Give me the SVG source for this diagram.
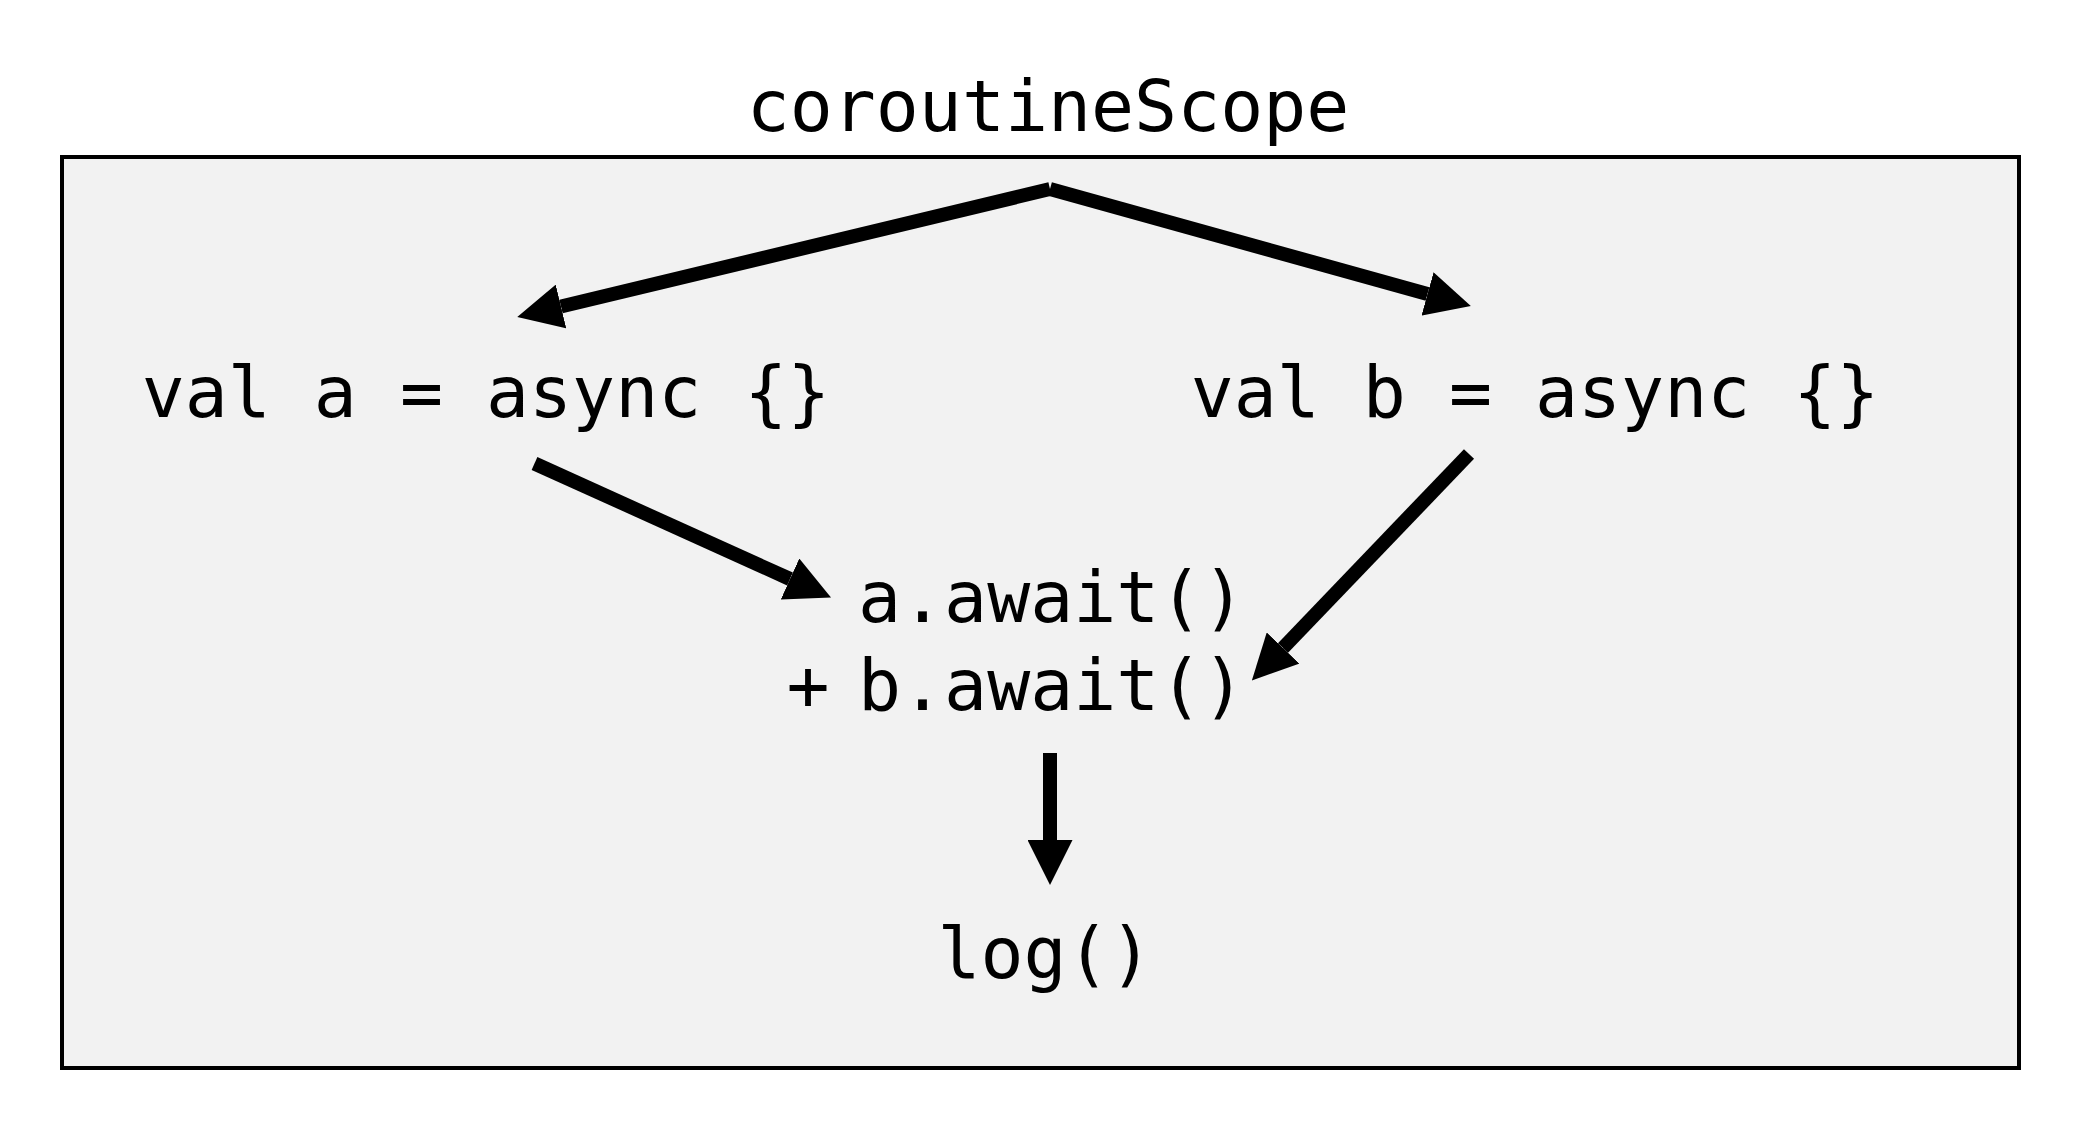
<svg xmlns="http://www.w3.org/2000/svg" width="2090" height="1136" viewBox="0 0 2090 1136">
  <style>
    .t { font-family: "DejaVu Sans Mono", "Liberation Mono", monospace; font-size: 71.5px; fill: #000; }
    .c { stroke: #000; stroke-width: 14; fill: none; stroke-linecap: butt; marker-end: url(#ah); }
  </style>
  <defs>
    <marker id="ah" markerUnits="userSpaceOnUse" markerWidth="45" markerHeight="45" viewBox="0 0 45 45" refX="0" refY="22.5" orient="auto">
      <path d="M0,0 L45,22.5 L0,45 Z" fill="#000"/>
    </marker>
  </defs>
  <rect width="2090" height="1136" fill="#fff"/>
  <g id="scope">
    <text class="t" x="1048" y="131" text-anchor="middle">coroutineScope</text>
    <rect x="62" y="157" width="1957" height="911" fill="#f2f2f2" stroke="#000" stroke-width="4"/>
  </g>
  <g id="node-a">
    <text class="t" x="486" y="417" text-anchor="middle">val a = async {}</text>
  </g>
  <g id="node-b">
    <text class="t" x="1535" y="417" text-anchor="middle">val b = async {}</text>
  </g>
  <g id="node-await">
    <text class="t" x="858" y="622">a.await()</text>
    <text class="t" x="808" y="710" text-anchor="middle">+</text>
    <text class="t" x="858" y="710">b.await()</text>
  </g>
  <g id="node-log">
    <text class="t" x="1045" y="978" text-anchor="middle">log()</text>
  </g>
  <g id="connectors">
    <line class="c" x1="1050" y1="189" x2="561" y2="306.5"/>
    <line class="c" x1="1050" y1="189" x2="1427.5" y2="294"/>
    <line class="c" x1="534.5" y1="463.5" x2="790" y2="579"/>
    <line class="c" x1="1469" y1="454" x2="1283" y2="648"/>
    <line class="c" x1="1050" y1="753" x2="1050" y2="840"/>
  </g>
</svg>
